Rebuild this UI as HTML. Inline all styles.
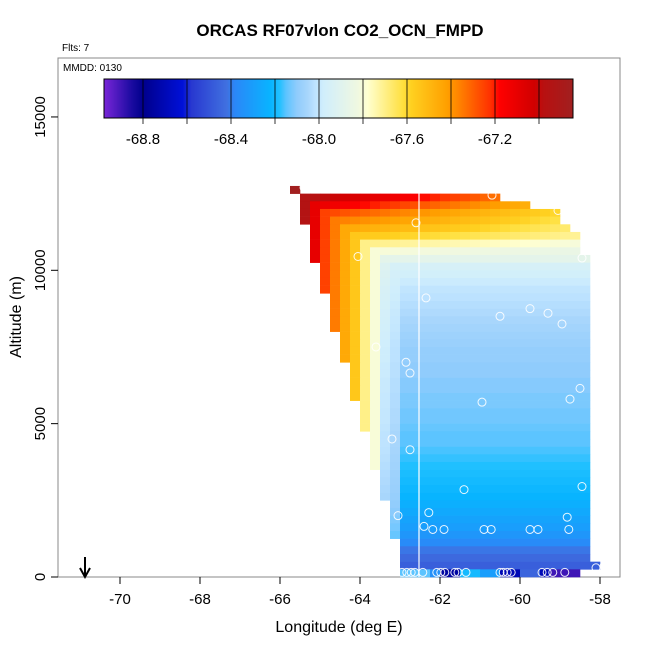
<!DOCTYPE html>
<html><head><meta charset="utf-8"><style>
body{margin:0;background:#fff}
svg text{font-family:"Liberation Sans",sans-serif}
</style></head><body>
<svg id="c" width="650" height="650" xmlns="http://www.w3.org/2000/svg">
<text x="340" y="36" text-anchor="middle" font-size="17" font-weight="bold">ORCAS RF07vlon CO2_OCN_FMPD</text>
<text x="62" y="51" font-size="10">Flts: 7</text>
<rect x="58" y="58" width="562" height="519" fill="none" stroke="#888"/>
<text x="63" y="71" font-size="10">MMDD: 0130</text>
<g id="heat"></g>
<line x1="419" y1="193" x2="419" y2="577" stroke="#fff" stroke-width="1.2"/>
<g id="pts"></g>
<g id="cbar"></g>
<g id="axes"></g>
<line x1="85" y1="557" x2="85" y2="575" stroke="#000" stroke-width="2"/>
<path d="M80,568 L85,577 L90,568" fill="none" stroke="#000" stroke-width="2"/>
<text x="339" y="632" text-anchor="middle" font-size="16">Longitude (deg E)</text>
<text transform="translate(21,317) rotate(-90)" text-anchor="middle" font-size="16">Altitude (m)</text>
</svg>
<script>
const xTicks=[-70,-68,-66,-64,-62,-60,-58];
const yTicks=[0,5000,10000,15000];
const legendTicks=[-68.8,-68.4,-68.0,-67.6,-67.2];
const bands=[-66.95,-67.1,-67.25,-67.35,-67.45,-67.55,-67.7,-67.8,-67.88,-67.95,-67.97,-67.99,-68.01,-68.02,-68.03,-68.04,-68.05,-68.06,-68.07,-68.08,-68.09,-68.09,-68.1,-68.1,-68.11,-68.11,-68.12,-68.12,-68.13,-68.13,-68.14,-68.15,-68.15,-68.16,-68.17,-68.18,-68.19,-68.2,-68.21,-68.22,-68.24,-68.26,-68.28,-68.3,-68.33,-68.37,-68.41,-68.44,-68.47];
const rowEndCol=[20,23,26,26,27,28,28,28,29,29,29,29,29,29,29,29,29,29,29,29,29,29,29,29,29,29,29,29,29,29,29,29,29,29,29,29,29,29,29,29,29,29,29,29,29,29,29,29,30,28];
const colLastRow=[3,8,12,17,21,26,30,35,39,44];
const bottomRow=[-68.15,-68.15,-68.15,-68.35,-68.75,-68.75,-68.2,-68.2,-68.3,-68.3,-68.7,-68.7,-68.45,-68.45,-68.7,-68.9,-68.9,-68.9];
const ptLon=[-65.4,-60.7,-59.05,-62.6,-64.05,-58.45,-62.35,-60.5,-59.75,-59.3,-58.95,-63.6,-62.85,-62.75,-60.95,-58.75,-58.5,-63.2,-62.75,-61.4,-58.45,-63.05,-62.28,-62.4,-62.18,-61.9,-60.9,-60.72,-59.75,-59.55,-58.82,-58.78,-58.1,-57.9,-62.95,-62.83,-62.72,-62.63,-62.43,-62.08,-61.98,-61.88,-61.63,-61.55,-61.35,-60.5,-60.42,-60.32,-60.22,-59.45,-59.32,-59.18,-58.88];
const ptAlt=[12700,12450,11950,11550,10450,10400,9100,8500,8750,8600,8250,7500,7000,6650,5700,5800,6150,4500,4150,2850,2950,2000,2100,1650,1550,1550,1550,1550,1550,1550,1950,1550,300,350,150,150,150,150,150,150,150,150,150,150,150,150,150,150,150,150,150,150,150];
const stops=[[-69.0,"#8a2be2"],[-68.85,"#1a0aa0"],[-68.8,"#00008c"],[-68.62,"#0010d8"],[-68.58,"#2838d0"],[-68.42,"#4070e0"],[-68.38,"#2a88f8"],[-68.22,"#08b4ff"],[-68.18,"#20c0ff"],[-68.15,"#5cc4ff"],[-68.1,"#90ccfc"],[-68.05,"#a8d6fc"],[-68.02,"#bce2ff"],[-67.98,"#d0eefc"],[-67.82,"#f0f8e0"],[-67.78,"#ffffd0"],[-67.62,"#ffe040"],[-67.58,"#ffd020"],[-67.42,"#ffa000"],[-67.38,"#ff8c00"],[-67.22,"#ff3000"],[-67.18,"#ff0000"],[-67.02,"#d00000"],[-66.98,"#b81010"],[-66.84,"#a02020"]];
const NS="http://www.w3.org/2000/svg";
function xs(lon){return 120+(lon+70)*40;}
function ys(a){return 577-a*0.03067;}
function lx(v){return 143+(v+68.8)*220;}
function hex(h){return [1,3,5].map(i=>parseInt(h.substr(i,2),16));}
function col(v){
 if(v<=stops[0][0])return stops[0][1];
 for(let i=1;i<stops.length;i++){if(v<=stops[i][0]){const a=stops[i-1],b=stops[i];const t=(v-a[0])/(b[0]-a[0]);const p=hex(a[1]),q=hex(b[1]);return "rgb("+p.map((c,j)=>Math.round(c+(q[j]-c)*t)).join(",")+")";}}
 return stops[stops.length-1][1];}
function mk(tag,attrs,parent){const e=document.createElementNS(NS,tag);for(const k in attrs)e.setAttribute(k,attrs[k]);parent.appendChild(e);return e;}
const heat=document.getElementById('heat');
const lon0=-65.5,dLon=0.25,alt0=12500,dAlt=250;
function cell(c,r,v){const x=xs(lon0+c*dLon),y=ys(alt0-r*dAlt);
 const e=mk('rect',{x:x,y:y,width:xs(lon0+(c+1)*dLon)-x+0.3,height:ys(alt0-(r+1)*dAlt)-y+0.3,fill:col(v)},heat);
 
 }
cell(-1,-1,-66.85);
for(let r=0;r<rowEndCol.length;r++){
 const rowv=bands[Math.min(r,bands.length-1)];
 for(let c=0;c<rowEndCol[r];c++){
  if(c<colLastRow.length&&r>colLastRow[c])continue;
  if(r===rowEndCol.length-1){const v=bottomRow[c-10];if(v!==undefined)cell(c,r,v);continue;}
  let v;
  if(c<r&&c<10){v=bands[c];if(c>=8)v=bands[c]*0.5+rowv*0.5;}
  else{v=rowv;if(r<8&&c>r)v-=0.02*(c-r)*(8-r)/8;}
  cell(c,r,v);
 }}
const pts=document.getElementById('pts');
for(let i=0;i<ptLon.length;i++){const e=mk('circle',{cx:xs(ptLon[i]),cy:ys(ptAlt[i]),r:4,fill:"none",stroke:"#fff","stroke-opacity":0.9,"stroke-width":1},pts);
 
 }
const cb=document.getElementById('cbar');
for(let x=104;x<573;x++){const v=-68.8+(x+0.5-143)/220;const e=mk('rect',{x:x,y:79,width:1.2,height:39,fill:col(v)},cb);
 
 }
for(let v=-68.8;v<-66.9;v+=0.2){mk('line',{x1:lx(v),y1:79,x2:lx(v),y2:124,stroke:"#000","stroke-width":0.8},cb);}
mk('rect',{x:104,y:79,width:469,height:39,fill:"none",stroke:"#000"},cb);
legendTicks.forEach(v=>{const t=mk('text',{x:lx(v),y:144,"text-anchor":"middle","font-size":15},cb);t.textContent=v.toFixed(1);
 
 });
const ax=document.getElementById('axes');
xTicks.forEach(v=>{mk('line',{x1:xs(v),y1:577,x2:xs(v),y2:584,stroke:"#000"},ax);const t=mk('text',{x:xs(v),y:604,"text-anchor":"middle","font-size":15},ax);t.textContent=v;
 
 });
yTicks.forEach(v=>{mk('line',{x1:51,y1:ys(v),x2:58,y2:ys(v),stroke:"#000"},ax);const t=mk('text',{transform:"translate(45,"+ys(v)+") rotate(-90)","text-anchor":"middle","font-size":15},ax);t.textContent=v;
 
 });
</script>
</body></html>
